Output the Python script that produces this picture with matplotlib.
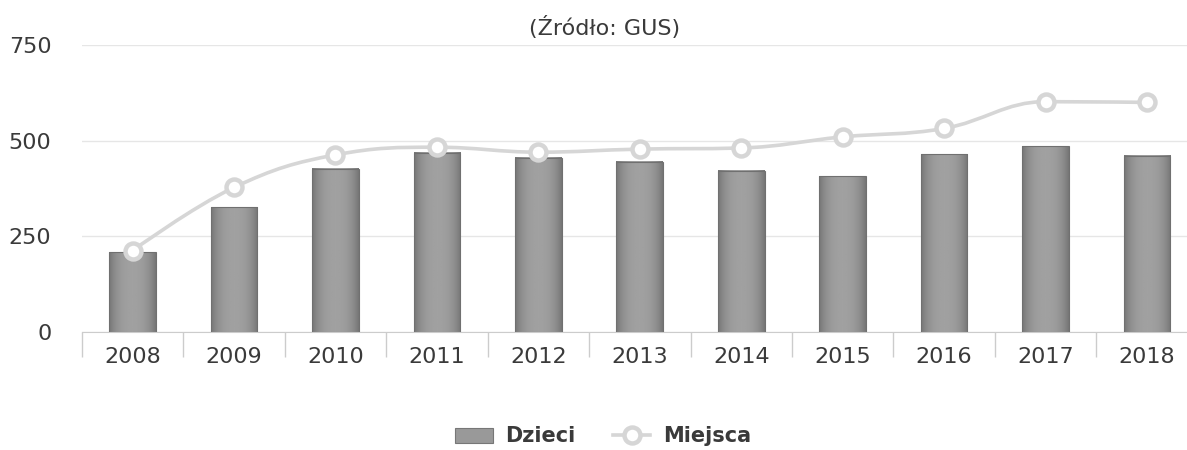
import numpy as np
import matplotlib.pyplot as plt
from matplotlib.path import Path
from matplotlib.patches import PathPatch, Rectangle, Patch
from matplotlib.lines import Line2D

# Dane
lata = ['2008', '2009', '2010', '2011', '2012', '2013', '2014', '2015', '2016', '2017', '2018']
dzieci = [208, 326, 427, 468, 456, 445, 422, 407, 464, 485, 460]
miejsca = [213, 378, 463, 483, 470, 478, 481, 510, 532, 602, 600]

kolor_tekstu = '#3a3a3a'
kolor_linii = '#d6d6d6'

fig = plt.figure(figsize=(11.87, 4.5), dpi=100)
ax = fig.add_axes([0.069, 0.262, 0.94, 0.638])

x = np.arange(len(lata))
szer = 0.46

# Słupki z gradientem (ciemniejsze krawędzie, jaśniejszy środek)
grad = 1 - np.abs(np.linspace(-1, 1, 64)) ** 2.5
grad = grad.reshape(1, -1)
for xi, h in zip(x, dzieci):
    ax.imshow(grad, extent=[xi - szer / 2, xi + szer / 2, 0, h], aspect='auto',
              cmap='gray', vmin=-2.9, vmax=3.3, zorder=2, interpolation='bilinear')
    ax.add_patch(Rectangle((xi - szer / 2, 0), szer, h, fill=False,
                           edgecolor='#707070', lw=0.8, zorder=3))

# Linia wygładzona (spline jak w Highcharts)
def kontrolne(px, py, i):
    sm, den = 1.5, 2.5
    lx = (sm * px[i] + px[i - 1]) / den
    ly = (sm * py[i] + py[i - 1]) / den
    rx = (sm * px[i] + px[i + 1]) / den
    ry = (sm * py[i] + py[i + 1]) / den
    if rx != lx:
        corr = (ry - ly) * (rx - px[i]) / (rx - lx) + py[i] - ry
        ly += corr
        ry += corr
    if ly > py[i - 1] and ly > py[i]:
        ly = max(py[i - 1], py[i]); ry = 2 * py[i] - ly
    elif ly < py[i - 1] and ly < py[i]:
        ly = min(py[i - 1], py[i]); ry = 2 * py[i] - ly
    if ry > py[i + 1] and ry > py[i]:
        ry = max(py[i + 1], py[i]); ly = 2 * py[i] - ry
    elif ry < py[i + 1] and ry < py[i]:
        ry = min(py[i + 1], py[i]); ly = 2 * py[i] - ry
    return (lx, ly), (rx, ry)

px = list(x.astype(float))
py = list(map(float, miejsca))
n = len(px)
lewe = [(px[0], py[0])] + [None] * (n - 2) + [(px[-1], py[-1])]
prawe = [(px[0], py[0])] + [None] * (n - 2) + [(px[-1], py[-1])]
for i in range(1, n - 1):
    lewe[i], prawe[i] = kontrolne(px, py, i)
verts = [(px[0], py[0])]
codes = [Path.MOVETO]
for i in range(1, n):
    verts += [prawe[i - 1], lewe[i], (px[i], py[i])]
    codes += [Path.CURVE4] * 3
ax.add_patch(PathPatch(Path(verts, codes), fill=False, edgecolor=kolor_linii,
                       lw=2.6, zorder=4, capstyle='round'))
ax.plot(x, miejsca, linestyle='none', marker='o', markersize=11.5,
        markerfacecolor='white', markeredgecolor=kolor_linii, markeredgewidth=3.2,
        zorder=5)

# Osie
ax.set_xlim(-0.5, len(lata) - 0.5)
ax.set_ylim(0, 750)
ax.set_yticks([0, 250, 500, 750])
ax.grid(axis='y', color='#e6e6e6', lw=1, zorder=0)
ax.set_axisbelow(True)
for s in ['top', 'right', 'left']:
    ax.spines[s].set_visible(False)
ax.spines['bottom'].set_color('#cccccc')
ax.tick_params(axis='y', length=0, labelsize=16, labelcolor=kolor_tekstu, pad=22)
ax.set_xticks(x)
ax.set_xticklabels(lata)
ax.tick_params(axis='x', which='major', length=0, labelsize=16,
               labelcolor=kolor_tekstu, pad=11)
ax.set_xticks(np.arange(-0.5, len(lata) - 0.4, 1), minor=True)
ax.tick_params(axis='x', which='minor', length=18, color='#cccccc', width=1)

fig.text(0.509, 0.94, '(Źródło: GUS)', ha='center', va='center',
         fontsize=16, color=kolor_tekstu)

uchwyty = [Patch(facecolor='#999999', edgecolor='#777777', lw=0.8),
           Line2D([0], [0], color=kolor_linii, lw=2.6, marker='o', markersize=11.5,
                  markerfacecolor='white', markeredgecolor=kolor_linii,
                  markeredgewidth=3.2)]
fig.legend(uchwyty, ['Dzieci', 'Miejsca'], loc='center', bbox_to_anchor=(0.508, 0.03),
           ncol=2, frameon=False, prop={'size': 15, 'weight': 'bold'},
           labelcolor=kolor_tekstu, handlelength=1.8, columnspacing=1.8,
           handletextpad=0.6)

fig.savefig('out.png', dpi=100)
